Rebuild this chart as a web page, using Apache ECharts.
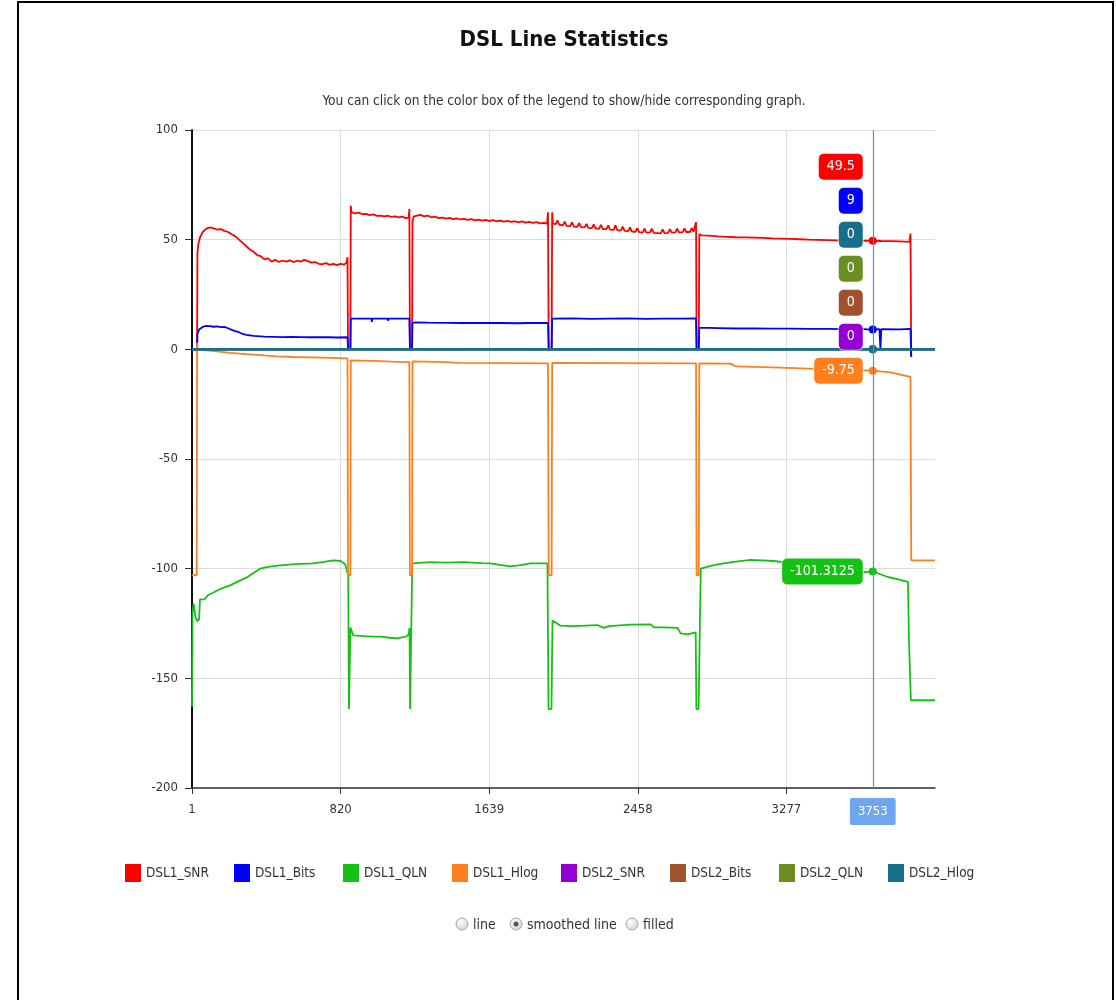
<!DOCTYPE html>
<html><head><meta charset="utf-8">
<script src="https://cdn.jsdelivr.net/npm/echarts@6/dist/echarts.min.js"></script>
<style>html,body{margin:0;padding:0;background:#fff}#c{width:1116px;height:1000px}</style>
</head><body><div id="c"></div><script>
const FONT = "'Liberation Sans Narrow','DejaVu Sans Condensed',sans-serif";

const titleText = 'DSL Line Statistics';
const subtitleText = 'You can click on the color box of the legend to show/hide corresponding graph.';
const seriesNames = ['DSL1_SNR','DSL1_Bits','DSL1_QLN','DSL1_Hlog','DSL2_SNR','DSL2_Bits','DSL2_QLN','DSL2_Hlog'];
const seriesColors = ['#ff0000','#0000ff','#14c214','#ff7f1f','#9400d3','#a0522d','#6b8e23','#186f8a'];
const xTickValues = [1, 820, 1639, 2458, 3277];
const xMin = 1, xMax = 4096;
const yMin = -200, yMax = 100, yStep = 50;
const cursorTone = 3753;
const cursorValues = [49.5, 9, -101.3125, -9.75, 0, 0, 0, 0];
const radioLabels = ['line', 'smoothed line', 'filled'];

const dsl1Snr = [[1,0],[29,0],[31,44],[36,48],[45,51],[60,53.5],[80,55],[100,55.6],[120,55.2],[140,54.6],[160,54.8],[180,54],[200,53.5],[220,52.5],[240,51.5],[260,50],[280,48.5],[300,47],[320,45.5],[340,44.5],[360,43],[380,42.5],[400,41],[420,41.5],[440,40],[460,40.8],[480,39.8],[500,40.5],[520,40],[540,40.6],[560,39.8],[580,40.4],[600,40],[620,40.8],[640,40.2],[660,39.5],[680,39.8],[700,39],[720,38.8],[740,39.3],[760,38.5],[780,39],[800,38.4],[820,39],[840,38.6],[852,39.5],[858,42],[861,0],
[874,0],[876,65.5],[880,62.5],[900,62],[920,62.3],[940,61.6],[960,61.8],[980,61.2],[1000,61.5],[1020,60.8],[1040,61],[1060,60.6],[1080,60.9],[1100,60.4],[1120,60.6],[1140,60.2],[1160,60.5],[1180,59.8],[1195,60],[1199,64],[1202,0],
[1214,0],[1216,58],[1222,60.5],[1240,61],[1260,61.3],[1280,60.6],[1300,61],[1320,60.2],[1340,60.5],[1360,59.8],[1380,60.1],[1400,59.6],[1420,59.9],[1440,59.4],[1460,59.7],[1480,59.2],[1500,59.5],[1520,59],[1540,59.4],[1560,58.8],[1580,59.1],[1600,58.7],[1620,59],[1640,58.5],[1660,58.9],[1680,58.4],[1700,58.7],[1720,58.2],[1740,58.6],[1760,58.1],[1780,58.4],[1800,57.9],[1820,58.3],[1840,57.8],[1860,58.1],[1880,57.6],[1900,58],[1920,57.4],[1940,57.7],[1958,57.3],[1963,62.5],[1967,0],
[1983,0],[1986,62.5],[1990,57.5],[2005,57],[2015,58.8],[2025,56.8],[2045,56.5],[2055,58.2],[2065,56.3],[2085,56.2],[2095,57.9],[2105,56],[2125,55.8],[2135,57.6],[2145,55.7],[2165,55.6],[2175,57.2],[2185,55.4],[2205,55.3],[2215,57],[2225,55.1],[2245,55],[2255,56.8],[2265,54.8],[2285,54.8],[2295,56.5],[2305,54.6],[2325,54.5],[2335,56.6],[2345,54.3],[2365,54.2],[2375,55.9],[2385,54],[2405,53.9],[2415,55.6],[2425,53.7],[2445,53.6],[2455,55.3],[2465,53.4],[2485,53.2],[2495,55],[2505,53.2],[2525,53.3],[2535,55],[2545,53.1],[2565,53],[2585,52.9],[2595,54.7],[2605,53],[2625,53.1],[2635,54.8],[2645,53.2],[2665,53.3],[2675,55],[2685,53.3],[2705,53.4],[2715,55.1],[2725,53.5],[2745,53.5],[2755,55.2],[2765,53.6],[2775,53.8],[2779,58],[2782,0],
[2794,0],[2797,52.5],[2810,52],[2850,51.8],[2900,51.5],[2950,51.3],[3000,51.1],[3050,51],[3100,50.9],[3150,50.8],[3200,50.6],[3250,50.5],[3300,50.4],[3350,50.2],[3400,50],[3450,49.9],[3500,49.8],[3550,49.7],[3600,49.6],[3650,49.5],[3700,49.5],[3753,49.5],[3800,49.4],[3850,49.3],[3900,49.2],[3955,49],[3961,52.8],[3965,-3.5]];

const dsl1Bits = [[1,0],[29,0],[31,7],[40,9],[60,10.2],[80,10.7],[100,10.6],[120,10.3],[140,10.5],[160,10.1],[180,10.2],[200,9.6],[220,8.9],[240,8.3],[260,7.8],[280,7],[300,6.6],[320,6.4],[340,6.1],[360,6],[400,5.8],[450,5.7],[500,5.6],[550,5.7],[600,5.6],[650,5.5],[700,5.6],[750,5.5],[800,5.4],[858,5.5],[861,0],
[874,0],[876,14],[950,14],[990,14],[992,12.5],[995,14],[1050,14],[1080,14],[1082,13],[1085,14],[1199,14],[1202,0],
[1214,0],[1216,12],[1230,12.3],[1300,12.2],[1400,12.1],[1500,12],[1600,12.1],[1700,12],[1800,11.9],[1850,12],[1855,11.2],[1860,12.2],[1900,12],[1963,12],[1967,0],
[1983,0],[1986,14],[2100,14.1],[2200,13.9],[2300,14],[2400,14.1],[2500,13.9],[2600,14],[2700,14],[2779,14.1],[2782,0],
[2794,0],[2797,9.8],[2850,9.8],[2900,9.7],[3000,9.5],[3100,9.5],[3200,9.4],[3300,9.4],[3400,9.3],[3500,9.3],[3600,9.2],[3700,9.2],[3753,9],[3790,9.2],[3795,0],[3800,9.2],[3900,9.1],[3961,9.3],[3965,-3.5]];

const dsl1Qln = [[1,-163],[4,-120],[10,-116],[20,-122],[30,-124],[40,-123],[45,-114],[55,-113.5],[70,-114],[90,-112],[117,-111],[150,-109.5],[180,-108.5],[211,-107.6],[250,-106],[303,-104],[340,-102],[376,-100],[420,-99.2],[487,-98.5],[550,-98],[600,-97.8],[669,-97.6],[720,-97],[779,-96.2],[820,-96.5],[845,-98],[855,-100.8],[862,-103],[866,-164],[872,-164],[874,-126.8],[890,-130.4],[950,-130.8],[1000,-131],[1039,-131],[1090,-131.5],[1131,-131.8],[1180,-131],[1195,-130],[1200,-127],[1203,-164],[1212,-164],
[1215,-97.6],[1315,-97],[1400,-97.2],[1497,-97],[1600,-97.5],[1646,-97.6],[1717,-98.5],[1756,-99],[1800,-98.5],[1867,-97.6],[1960,-97.6],[1966,-164],[1982,-164],
[1988,-123.6],[2032,-126],[2100,-126.2],[2236,-125.7],[2269,-127],[2300,-126.2],[2418,-125.5],[2529,-125.4],[2545,-126.7],[2600,-126.8],[2677,-127],[2694,-129.5],[2733,-130],[2777,-129],[2781,-164],[2793,-164],
[2805,-100],[2870,-98.5],[2931,-97.6],[3000,-96.8],[3080,-96],[3207,-96.5],[3300,-97.5],[3400,-98.5],[3500,-99.5],[3600,-100.5],[3704,-101.6],[3753,-101.3],[3836,-103.8],[3900,-105],[3947,-106],[3952,-131],[3963,-160],[4096,-160]];

const dsl1Hlog = [[1,-103],[27,-103],[29,3],[33,0],[80,-0.5],[150,-1],[211,-1.6],[300,-2.2],[400,-2.8],[470,-3.2],[560,-3.5],[660,-3.7],[760,-3.9],[858,-4.1],[861,-103],[874,-103],[876,-5],[1000,-5.3],[1100,-5.6],[1199,-5.8],[1202,-103],[1214,-103],[1216,-5.5],[1400,-5.8],[1470,-6.2],[1700,-6.3],[1963,-6.4],[1967,-103],[1983,-103],[1986,-6.2],[2300,-6.3],[2779,-6.4],[2782,-103],[2794,-103],[2797,-6.4],[2970,-6.5],[3000,-7.8],[3100,-8],[3200,-8.2],[3400,-8.8],[3600,-9.4],[3753,-9.75],[3850,-10.5],[3930,-12],[3961,-12.6],[3965,-96.2],[4096,-96.2]];

const dsl2Snr = [[1,0],[4096,0]];
const dsl2Bits = [[1,0],[4096,0]];
const dsl2Qln = [[1,0],[4096,0]];
const dsl2Hlog = [[1,0],[4096,0]];

const seriesData = [dsl1Snr, dsl1Bits, dsl1Qln, dsl1Hlog, dsl2Snr, dsl2Bits, dsl2Qln, dsl2Hlog];

const chart = echarts.init(document.getElementById('c'), null, {renderer: 'canvas'});

const series = seriesNames.map((name, i) => ({
  name, type: 'line', data: seriesData[i], symbol: 'none', smooth: false,
  color: seriesColors[i],
  lineStyle: {width: i === 7 ? 2.6 : 1.8, color: seriesColors[i]},
  z: 2 + i,
  markPoint: {
    symbol: 'circle', symbolSize: 8, silent: true,
    itemStyle: {color: seriesColors[i]},
    label: {show: false},
    data: [{coord: [cursorTone, cursorValues[i]]}]
  }
}));

// one legend box per series, laid out like the original fixed-width legend table
const legends = seriesNames.map((n, i) => ({
  data: [n], left: 125 + i * 109, top: 864, itemWidth: 16, itemHeight: 18, icon: 'rect', padding: 0,
  textStyle: {fontFamily: FONT, fontSize: 13.5, color: '#333'}
}));

const radioX = [462, 516, 632];
const radioGraphics = [];
radioLabels.forEach((t, i) => {
  radioGraphics.push({type: 'circle', shape: {cx: radioX[i], cy: 924, r: 6}, silent: true,
    style: {fill: new echarts.graphic.RadialGradient(0.4, 0.35, 0.8, [{offset: 0, color: '#ffffff'}, {offset: 1, color: '#c8c8c8'}]), stroke: '#a8a8a8', lineWidth: 1}});
  if (i === 1) radioGraphics.push({type: 'circle', shape: {cx: radioX[i], cy: 924, r: 2.5}, silent: true, style: {fill: '#555'}});
  radioGraphics.push({type: 'text', x: radioX[i] + 11, y: 925, silent: true,
    style: {text: t, font: `14px ${FONT}`, fill: '#333', verticalAlign: 'middle'}});
});

const pointerLine = {color: '#4f8ee0', width: 1.2, type: 'solid', opacity: 1};

chart.setOption({
  animation: false,
  backgroundColor: '#fff',
  axisPointer: {lineStyle: pointerLine},
  grid: {left: 192, right: 181, top: 130, bottom: 212, containLabel: false},
  legend: legends,
  xAxis: {
    type: 'value', min: xMin, max: xMax,
    axisLine: {show: true, onZero: false, lineStyle: {color: '#333', width: 1.5}},
    axisTick: {show: true, length: 6, lineStyle: {color: '#333'}, customValues: xTickValues},
    axisLabel: {customValues: xTickValues, fontFamily: FONT, fontSize: 13, color: '#333', margin: 15,
      formatter: v => String(Math.round(v))},
    splitLine: {show: true, lineStyle: {color: '#dcdcdc', width: 1}},
    axisPointer: {
      show: true, type: 'line', value: cursorTone, status: 'show', triggerTooltip: false,
      lineStyle: pointerLine,
      label: {show: true, backgroundColor: '#6fa7ef', color: '#fff', fontFamily: FONT, fontSize: 13, padding: [7, 8], margin: 10, borderRadius: 2,
        formatter: p => String(Math.round(p.value))}
    }
  },
  yAxis: {
    type: 'value', min: yMin, max: yMax, interval: yStep,
    axisLine: {show: true, onZero: false, lineStyle: {color: '#111', width: 2}},
    axisTick: {show: true, length: 7, lineStyle: {color: '#333'}},
    axisLabel: {fontFamily: FONT, fontSize: 13, color: '#333', margin: 14},
    splitLine: {show: true, lineStyle: {color: '#dcdcdc', width: 1}}
  },
  series,
  graphic: [
    {type: 'rect', shape: {x: 18, y: 2, width: 1095, height: 1010}, silent: true, style: {fill: 'none', stroke: '#000', lineWidth: 2}},
    {type: 'text', x: 564, y: 40, silent: true, style: {text: titleText, font: `bold 22px ${FONT}`, fill: '#111', align: 'center', verticalAlign: 'middle'}},
    {type: 'text', x: 564, y: 101, silent: true, style: {text: subtitleText, font: `13.6px ${FONT}`, fill: '#333', align: 'center', verticalAlign: 'middle'}},
    ...radioGraphics
  ]
});

// cursor value badges (tooltip-like labels)
const px = chart.convertToPixel({xAxisIndex: 0}, cursorTone);
const hlogY = chart.convertToPixel({yAxisIndex: 0}, cursorValues[3]);
const qlnY = chart.convertToPixel({yAxisIndex: 0}, cursorValues[2]);
const stackOrder = [0, 1, 7, 6, 5, 4, 3];
const badges = [];
stackOrder.forEach((si, k) => {
  badges.push({si, y: hlogY - (stackOrder.length - 1 - k) * 34});
});
badges.push({si: 2, y: qlnY});
const badgeGraphics = badges.map(b => ({
  type: 'text', x: px - 10, y: b.y, silent: true, z: 100,
  style: {text: String(cursorValues[b.si]), font: `14px ${FONT}`, fill: '#fff', align: 'right', verticalAlign: 'middle',
    backgroundColor: seriesColors[b.si], borderRadius: 5, padding: [6, 8], borderColor: 'rgba(255,255,255,0.7)', borderWidth: 1}
}));
chart.setOption({graphic: badgeGraphics.map((g, i) => Object.assign({id: 'badge' + i}, g))});
</script></body></html>
